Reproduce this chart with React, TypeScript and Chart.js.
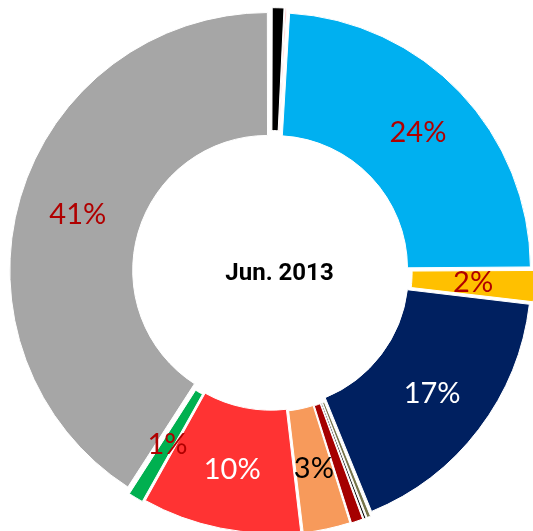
import React, { useEffect, useRef } from "react";
import { Chart, registerables } from "chart.js";

Chart.register(...registerables);

const categories = [
  "A", "B", "C", "D", "E", "F", "G", "H", "I", "J", "K", "L",
];
const values = [0.8, 0.15, 24, 2, 17, 0.3, 0.2, 0.8, 3, 10, 1, 41];
const colors = [
  "#000000", "#FF7C80", "#00B0F0", "#FFC000", "#002060", "#76744A",
  "#000000", "#A50000", "#F79A5B", "#FF3333", "#00B050", "#A6A6A6",
];
const labels = ["", "", "24%", "2%", "17%", "", "", "", "3%", "10%", "1%", "41%"];
const labelColors = [
  "", "", "#B00000", "#B00000", "#FFFFFF", "", "", "", "#000000", "#FFFFFF", "#B00000", "#B00000",
];
const centerTitle = "Jun. 2013";

const labelPlugin = {
  id: "sliceLabels",
  afterDatasetsDraw(chart: any) {
    const ctx = chart.ctx;
    const meta = chart.getDatasetMeta(0);
    ctx.save();
    ctx.textAlign = "center";
    ctx.textBaseline = "middle";
    meta.data.forEach((arc: any, i: number) => {
      const text = labels[i];
      if (!text) return;
      const { x, y, startAngle, endAngle, innerRadius, outerRadius } = arc.getProps(
        ["x", "y", "startAngle", "endAngle", "innerRadius", "outerRadius"],
        true
      );
      const mid = (startAngle + endAngle) / 2;
      const r = innerRadius + (outerRadius - innerRadius) * 0.56;
      ctx.font = "normal 29px Lato, 'DejaVu Sans', sans-serif";
      ctx.fillStyle = labelColors[i];
      ctx.fillText(text, x + Math.cos(mid) * r, y + Math.sin(mid) * r);
    });
    const a0 = meta.data[0];
    ctx.font = "bold 24px Roboto, Arial, sans-serif";
    ctx.fillStyle = "#000000";
    ctx.fillText(centerTitle, a0.x + 8, a0.y + 2);
    ctx.restore();
  },
};

export default function App() {
  const ref = useRef<HTMLCanvasElement>(null);
  useEffect(() => {
    if (!ref.current) return;
    const chart = new Chart(ref.current, {
      type: "doughnut",
      data: {
        labels: categories,
        datasets: [
          {
            data: values,
            backgroundColor: colors,
            borderColor: "#FFFFFF",
            borderWidth: 1,
            offset: 16,
          },
        ],
      },
      options: {
        animation: false,
        responsive: false,
        cutout: "52%",
        plugins: {
          legend: { display: false },
          tooltip: { enabled: false },
        },
      },
      plugins: [labelPlugin],
    });
    return () => chart.destroy();
  }, []);
  return (
    <div style={{ position: "fixed", left: 0, top: 0, width: 533, height: 531, overflow: "hidden", background: "#fff" }}>
      <canvas
        ref={ref}
        width={529}
        height={529}
        style={{ position: "absolute", left: 7, top: 7, width: 529, height: 529 }}
      />
    </div>
  );
}
